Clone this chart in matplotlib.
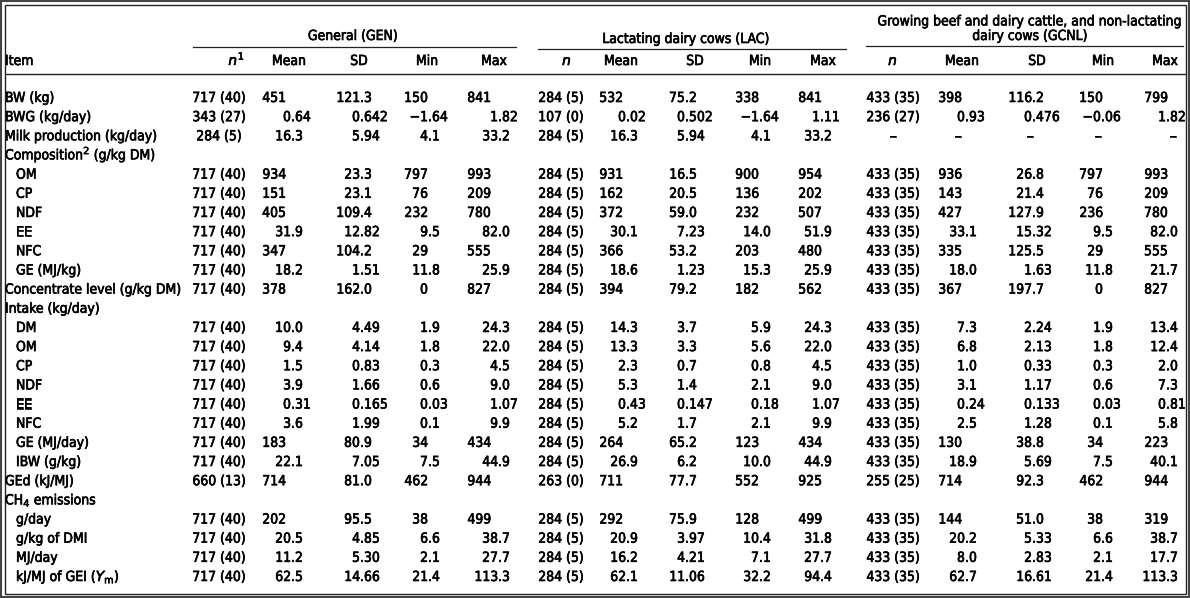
import matplotlib
matplotlib.use("Agg")
from matplotlib import pyplot as plt
from matplotlib.patches import Rectangle
import matplotlib.patheffects as pe

items = ["BW (kg)", "BWG (kg/day)", "Milk production (kg/day)", "Composition$^{2}$ (g/kg DM)",
         "OM", "CP", "NDF", "EE", "NFC", "GE (MJ/kg)", "Concentrate level (g/kg DM)",
         "Intake (kg/day)", "DM", "OM", "CP", "NDF", "EE", "NFC", "GE (MJ/day)", "IBW (g/kg)",
         "GEd (kJ/MJ)", "CH$_{4}$ emissions", "g/day", "g/kg of DMI", "MJ/day",
         r"kJ/MJ of GEI ($\mathit{Y}_{\mathrm{m}}$)"]
indent = [0, 0, 0, 0, 1, 1, 1, 1, 1, 1, 0, 0, 1, 1, 1, 1, 1, 1, 1, 1, 0, 0, 1, 1, 1, 1]

# General (GEN)
gen_n = ["717 (40)", "343 (27)", "284 (5)", None, "717 (40)", "717 (40)", "717 (40)", "717 (40)", "717 (40)",
         "717 (40)", "717 (40)", None, "717 (40)", "717 (40)", "717 (40)", "717 (40)", "717 (40)", "717 (40)",
         "717 (40)", "717 (40)", "660 (13)", None, "717 (40)", "717 (40)", "717 (40)", "717 (40)"]
gen_mean = ["451", "0.64", "16.3", None, "934", "151", "405", "31.9", "347", "18.2", "378", None,
            "10.0", "9.4", "1.5", "3.9", "0.31", "3.6", "183", "22.1", "714", None, "202", "20.5", "11.2", "62.5"]
gen_sd = ["121.3", "0.642", "5.94", None, "23.3", "23.1", "109.4", "12.82", "104.2", "1.51", "162.0", None,
          "4.49", "4.14", "0.83", "1.66", "0.165", "1.99", "80.9", "7.05", "81.0", None, "95.5", "4.85", "5.30", "14.66"]
gen_min = ["150", "\u22121.64", "4.1", None, "797", "76", "232", "9.5", "29", "11.8", "0", None,
           "1.9", "1.8", "0.3", "0.6", "0.03", "0.1", "34", "7.5", "462", None, "38", "6.6", "2.1", "21.4"]
gen_max = ["841", "1.82", "33.2", None, "993", "209", "780", "82.0", "555", "25.9", "827", None,
           "24.3", "22.0", "4.5", "9.0", "1.07", "9.9", "434", "44.9", "944", None, "499", "38.7", "27.7", "113.3"]

# Lactating dairy cows (LAC)
lac_n = ["284 (5)", "107 (0)", "284 (5)", None, "284 (5)", "284 (5)", "284 (5)", "284 (5)", "284 (5)",
         "284 (5)", "284 (5)", None, "284 (5)", "284 (5)", "284 (5)", "284 (5)", "284 (5)", "284 (5)",
         "284 (5)", "284 (5)", "263 (0)", None, "284 (5)", "284 (5)", "284 (5)", "284 (5)"]
lac_mean = ["532", "0.02", "16.3", None, "931", "162", "372", "30.1", "366", "18.6", "394", None,
            "14.3", "13.3", "2.3", "5.3", "0.43", "5.2", "264", "26.9", "711", None, "292", "20.9", "16.2", "62.1"]
lac_sd = ["75.2", "0.502", "5.94", None, "16.5", "20.5", "59.0", "7.23", "53.2", "1.23", "79.2", None,
          "3.7", "3.3", "0.7", "1.4", "0.147", "1.7", "65.2", "6.2", "77.7", None, "75.9", "3.97", "4.21", "11.06"]
lac_min = ["338", "\u22121.64", "4.1", None, "900", "136", "232", "14.0", "203", "15.3", "182", None,
           "5.9", "5.6", "0.8", "2.1", "0.18", "2.1", "123", "10.0", "552", None, "128", "10.4", "7.1", "32.2"]
lac_max = ["841", "1.11", "33.2", None, "954", "202", "507", "51.9", "480", "25.9", "562", None,
           "24.3", "22.0", "4.5", "9.0", "1.07", "9.9", "434", "44.9", "925", None, "499", "31.8", "27.7", "94.4"]

# Growing beef and dairy cattle, and non-lactating dairy cows (GCNL)
gcnl_n = ["433 (35)", "236 (27)", "\u2013", None, "433 (35)", "433 (35)", "433 (35)", "433 (35)", "433 (35)",
          "433 (35)", "433 (35)", None, "433 (35)", "433 (35)", "433 (35)", "433 (35)", "433 (35)", "433 (35)",
          "433 (35)", "433 (35)", "255 (25)", None, "433 (35)", "433 (35)", "433 (35)", "433 (35)"]
gcnl_mean = ["398", "0.93", "\u2013", None, "936", "143", "427", "33.1", "335", "18.0", "367", None,
             "7.3", "6.8", "1.0", "3.1", "0.24", "2.5", "130", "18.9", "714", None, "144", "20.2", "8.0", "62.7"]
gcnl_sd = ["116.2", "0.476", "\u2013", None, "26.8", "21.4", "127.9", "15.32", "125.5", "1.63", "197.7", None,
           "2.24", "2.13", "0.33", "1.17", "0.133", "1.28", "38.8", "5.69", "92.3", None, "51.0", "5.33", "2.83", "16.61"]
gcnl_min = ["150", "\u22120.06", "\u2013", None, "797", "76", "236", "9.5", "29", "11.8", "0", None,
            "1.9", "1.8", "0.3", "0.6", "0.03", "0.1", "34", "7.5", "462", None, "38", "6.6", "2.1", "21.4"]
gcnl_max = ["799", "1.82", "\u2013", None, "993", "209", "780", "82.0", "555", "21.7", "827", None,
            "13.4", "12.4", "2.0", "7.3", "0.81", "5.8", "223", "40.1", "944", None, "319", "38.7", "17.7", "113.3"]

groups = ["General (GEN)", "Lactating dairy cows (LAC)",
          "Growing beef and dairy cattle, and non-lactating\ndairy cows (GCNL)"]
col_names = ["Mean", "SD", "Min", "Max"]

plt.rcParams["font.family"] = ["DejaVu Sans"]
plt.rcParams["mathtext.fontset"] = "custom"
plt.rcParams["mathtext.rm"] = "DejaVu Sans"
plt.rcParams["mathtext.it"] = "DejaVu Sans:italic"

W, H = 1190, 598
fig = plt.figure(figsize=(W / 100, H / 100), dpi=100)
ax = fig.add_axes([0, 0, 1, 1])
ax.set_xlim(0, W)
ax.set_ylim(H, 0)
ax.axis("off")

fs = 10
# slightly heavier strokes, the scanned table looks semi-bold
heavy = [pe.withStroke(linewidth=0.45, foreground="black")]
kw = dict(fontsize=fs, fontstretch="condensed", color="black", va="baseline", path_effects=heavy)

# frame
ax.add_patch(Rectangle((1, 1), W - 2, H - 2, fill=False, lw=1.5, ec="#444444"))
ax.add_patch(Rectangle((4.5, 4.5), W - 9, H - 9, fill=False, lw=1.0, ec="#222222"))

# column layout: (n centre, [(decimal x, integer right x, centre)] for Mean, SD, Min, Max)
layout = [
    (219, [(291, 286, 289), (360, 360, 359), (428, 428, 427), (498, 491, 494)]),
    (561, [(626, 623, 621), (685, 685, 695), (759, 759, 760), (820, 822, 823)]),
    (893, [(965, 962, 958), (1032, 1032, 1030), (1101, 1103, 1098), (1166, 1168, 1173)]),
]
head_x = [[289, 359, 427, 494], [621, 695, 760, 823], [962, 1037, 1103, 1165]]
group_lines = [(193, 516, 47), (538, 846, 49), (866, 1183, 46)]
group_text = [(353, 40), (686, 43), (1030, 40)]
data = [
    (gen_n, [gen_mean, gen_sd, gen_min, gen_max]),
    (lac_n, [lac_mean, lac_sd, lac_min, lac_max]),
    (gcnl_n, [gcnl_mean, gcnl_sd, gcnl_min, gcnl_max]),
]

# header
for g in range(3):
    tx, ty = group_text[g]
    ax.text(tx, ty, groups[g], ha="center", linespacing=1.05, **kw)
    x0, x1, yl = group_lines[g]
    ax.plot([x0, x1], [yl, yl], color="#222222", lw=0.9)
ax.text(5, 65, "Item", ha="left", **kw)
ax.text(245, 65, r"$\mathit{n}^{1}$", ha="right", **kw)
ax.text(567, 65, r"$\mathit{n}$", ha="center", **kw)
ax.text(893, 65, r"$\mathit{n}$", ha="center", **kw)
for g in range(3):
    for j, name in enumerate(col_names):
        ax.text(head_x[g][j], 65, name, ha="center", **kw)
ax.plot([4.5, W - 4.5], [74, 74], color="#222222", lw=1.0)

# body
y0, dy = 102, 19.16
for i, item in enumerate(items):
    y = y0 + i * dy
    ax.text(5 + 11 * indent[i], y, item, ha="left", **kw)
    for g in range(3):
        ncol, cols = data[g]
        if ncol[i] is not None:
            ax.text(layout[g][0], y, ncol[i], ha="center", **kw)
        for j, col in enumerate(cols):
            v = col[i]
            if v is None:
                continue
            dx, ix, cx = layout[g][1][j]
            if v == "\u2013":
                ax.text(cx, y, v, ha="center", **kw)
            elif "." in v:
                a, b = v.split(".")
                ax.text(dx, y, a, ha="right", **kw)
                ax.text(dx, y, "." + b, ha="left", **kw)
            else:
                ax.text(ix, y, v, ha="right", **kw)

fig.savefig("out.png", dpi=100)
